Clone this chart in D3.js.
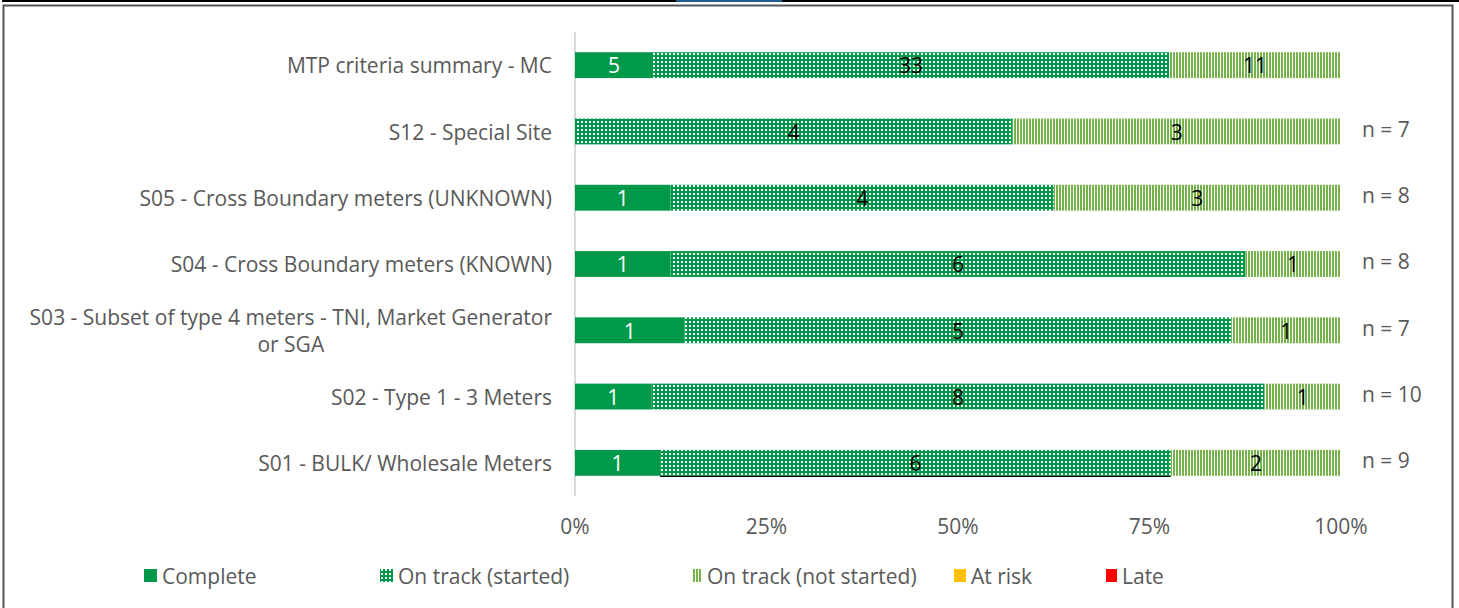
<!DOCTYPE html>
<html>
<head>
<meta charset="utf-8">
<script src="https://cdn.jsdelivr.net/npm/d3@7"></script>
<style>
  body { margin: 0; background: #fff; }
  text { font-family: "Open Sans", sans-serif; }
</style>
</head>
<body>
<div id="chart"></div>
<script>
var categories = [
  "MTP criteria summary - MC",
  "S12 - Special Site",
  "S05 - Cross Boundary meters (UNKNOWN)",
  "S04 - Cross Boundary meters (KNOWN)",
  "S03 - Subset of type 4 meters - TNI, Market Generator|or SGA",
  "S02 - Type 1 - 3 Meters",
  "S01 - BULK/ Wholesale Meters"
];
var complete   = [5, 0, 1, 1, 1, 1, 1];
var started    = [33, 4, 4, 6, 5, 8, 6];
var notStarted = [11, 3, 3, 1, 1, 1, 2];
var atRisk     = [0, 0, 0, 0, 0, 0, 0];
var late       = [0, 0, 0, 0, 0, 0, 0];
var nLabels    = ["", "n = 7", "n = 8", "n = 8", "n = 7", "n = 10", "n = 9"];
var tickValues = [0, 0.25, 0.5, 0.75, 1];
var seriesNames = ["Complete", "On track (started)", "On track (not started)", "At risk", "Late"];

var width = 1459, height = 608;
var gray = "#595959";
var fs = 21;

var svg = d3.select("#chart").append("svg")
  .attr("width", width)
  .attr("height", height);

// patterns
var defs = svg.append("defs");
var dots = defs.append("pattern")
  .attr("id", "dots")
  .attr("patternUnits", "userSpaceOnUse")
  .attr("width", 4).attr("height", 4);
dots.append("rect").attr("width", 4).attr("height", 4).attr("fill", "#00994A");
dots.append("rect").attr("x", 1).attr("y", 1).attr("width", 2).attr("height", 2).attr("fill", "#ffffff");

var stripes = defs.append("pattern")
  .attr("id", "stripes")
  .attr("patternUnits", "userSpaceOnUse")
  .attr("width", 3).attr("height", 3);
stripes.append("rect").attr("width", 3).attr("height", 3).attr("fill", "#ffffff");
stripes.append("rect").attr("width", 2).attr("height", 3).attr("fill", "#76B24C");

var fills = ["#00994A", "url(#dots)", "url(#stripes)", "#FFC000", "#FF0000"];
var labelColors = ["#ffffff", "#000000", "#000000", "#000000", "#000000"];

// frame
svg.append("line").attr("x1", 2).attr("x2", width).attr("y1", 1).attr("y2", 1)
  .attr("stroke", "#000").attr("stroke-width", 2);
svg.append("line").attr("x1", 676).attr("x2", 782).attr("y1", 1).attr("y2", 1)
  .attr("stroke", "#1F5C8B").attr("stroke-width", 2);
svg.append("path").attr("d", "M3.5,608 V5.5 H1452.5 V608")
  .attr("fill", "none").attr("stroke", "#555").attr("stroke-width", 2);

var x = d3.scaleLinear().domain([0, 1]).range([575, 1341]);
var y = d3.scaleBand().domain(categories).range([32, 496]).paddingInner(0.61).paddingOuter(0.305);

var rows = categories.map(function (c, i) {
  var vals = [complete[i], started[i], notStarted[i], atRisk[i], late[i]];
  var total = d3.sum(vals);
  var acc = 0;
  var segs = vals.map(function (v, k) {
    var s = { cat: c, k: k, v: v, x0: acc / total, x1: (acc + v) / total };
    acc += v;
    return s;
  });
  return { cat: c, i: i, segs: segs };
});

// axis line
svg.append("line")
  .attr("x1", x(0)).attr("x2", x(0))
  .attr("y1", 32).attr("y2", 496)
  .attr("stroke", "#D9D9D9").attr("stroke-width", 2);

var row = svg.selectAll(".row").data(rows).enter().append("g").attr("class", "row");

row.selectAll("rect").data(function (d) { return d.segs.filter(function (s) { return s.v > 0; }); })
  .enter().append("rect")
  .attr("x", function (s) { return x(s.x0); })
  .attr("y", function (s) { return y(s.cat); })
  .attr("width", function (s) { return x(s.x1) - x(s.x0); })
  .attr("height", y.bandwidth())
  .attr("fill", function (s) { return fills[s.k]; });

// odd black underline on the S01 started segment (as in the original)
var s01 = rows[6].segs[1];
svg.append("line")
  .attr("x1", x(s01.x0)).attr("x2", x(s01.x1))
  .attr("y1", y(s01.cat) + y.bandwidth() + 0.5).attr("y2", y(s01.cat) + y.bandwidth() + 0.5)
  .attr("stroke", "#000").attr("stroke-width", 1.2);

row.selectAll("text.val").data(function (d) { return d.segs.filter(function (s) { return s.v > 0; }); })
  .enter().append("text")
  .attr("class", "val")
  .attr("x", function (s) { return (x(s.x0) + x(s.x1)) / 2; })
  .attr("y", function (s) { return y(s.cat) + y.bandwidth() / 2 + 1; })
  .attr("dy", "0.35em")
  .attr("text-anchor", "middle")
  .attr("font-size", fs)
  .attr("fill", function (s) { return labelColors[s.k]; })
  .text(function (s) { return s.v; });

// category labels
row.each(function (d) {
  var g = d3.select(this);
  var lines = d.cat.split("|");
  var cy = y(d.cat) + y.bandwidth() / 2 + 1;
  if (lines.length === 1) {
    g.append("text")
      .attr("x", 552).attr("y", cy).attr("dy", "0.35em")
      .attr("text-anchor", "end").attr("font-size", fs).attr("fill", gray)
      .text(lines[0]);
  } else {
    var t1 = g.append("text")
      .attr("x", 552).attr("y", cy - 14).attr("dy", "0.35em")
      .attr("text-anchor", "end").attr("font-size", fs).attr("fill", gray)
      .text(lines[0]);
    var w = t1.node().getComputedTextLength();
    g.append("text")
      .attr("x", 552 - w / 2).attr("y", cy + 13).attr("dy", "0.35em")
      .attr("text-anchor", "middle").attr("font-size", fs).attr("fill", gray)
      .text(lines[1]);
  }
  if (nLabels[d.i]) {
    g.append("text")
      .attr("x", 1362).attr("y", cy - 3).attr("dy", "0.35em")
      .attr("font-size", fs).attr("fill", gray)
      .text(nLabels[d.i]);
  }
});

// x tick labels
svg.selectAll(".tick").data(tickValues).enter().append("text")
  .attr("x", function (d) { return x(d); })
  .attr("y", 527).attr("dy", "0.35em")
  .attr("text-anchor", "middle").attr("font-size", fs).attr("fill", gray)
  .text(d3.format(".0%"));

// legend
var markerX = [144, 380, 692, 954, 1106];
var markerW = [13, 13, 10, 12, 11];
var legend = svg.selectAll(".legend").data(seriesNames).enter().append("g");
legend.append("rect")
  .attr("x", function (d, i) { return markerX[i]; })
  .attr("y", 569).attr("width", function (d, i) { return markerW[i]; }).attr("height", 13)
  .attr("fill", function (d, i) { return fills[i]; });
legend.append("text")
  .attr("x", function (d, i) { return markerX[i] + markerW[i] + 5; })
  .attr("y", 577).attr("dy", "0.35em")
  .attr("font-size", fs).attr("fill", gray)
  .text(function (d) { return d; });
</script>
</body>
</html>
